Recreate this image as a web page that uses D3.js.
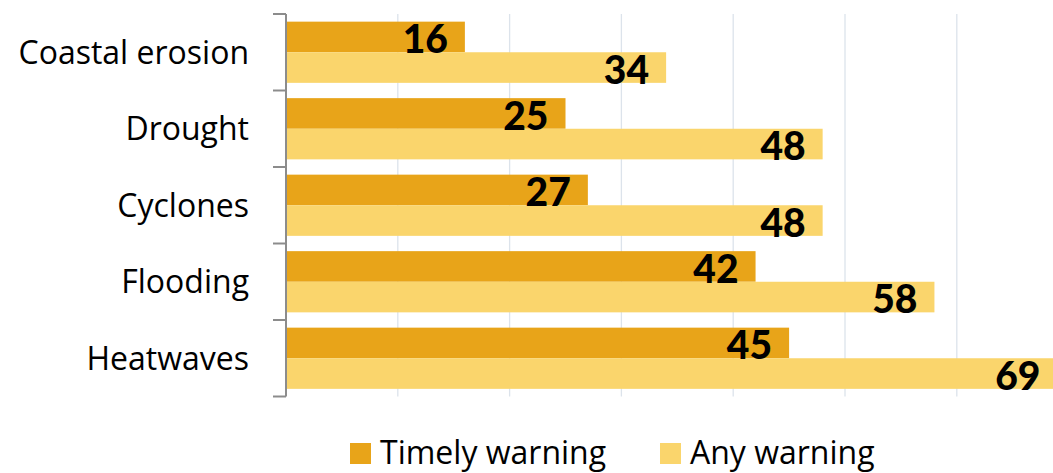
<!DOCTYPE html>
<html>
<head>
<meta charset="utf-8">
<script src="https://cdn.jsdelivr.net/npm/d3@7"></script>
<style>
  html, body { margin: 0; padding: 0; background: #fff; }
  svg { display: block; font-family: "Open Sans", Lato, sans-serif; }
  .value { font-family: Lato, "Open Sans", sans-serif; }
</style>
</head>
<body>
<svg id="chart" width="1053" height="473"></svg>
<script>
// Share of respondents who received a warning, by hazard type
const categories = ["Coastal erosion", "Drought", "Cyclones", "Flooding", "Heatwaves"];
const seriesNames = ["Timely warning", "Any warning"];
const timelyWarning = [16, 25, 27, 42, 45];
const anyWarning = [34, 48, 48, 58, 69];
const gridTicks = [10, 20, 30, 40, 50, 60];

const colors = { "Timely warning": "#E8A419", "Any warning": "#FAD56C" };

const rows = categories.map((c, i) => ({
  category: c,
  values: [
    { series: "Timely warning", value: timelyWarning[i] },
    { series: "Any warning", value: anyWarning[i] }
  ]
}));

const svg = d3.select("#chart");
const left = 286;

const x = d3.scaleLinear().domain([0, 70]).range([left, left + 70 * 11.18]);
const y0 = d3.scaleBand().domain(categories).range([14, 396.5])
  .paddingInner(0.2).paddingOuter(0.1);
const y1 = d3.scaleBand().domain(seriesNames).range([0, y0.bandwidth()]);

// vertical gridlines
svg.append("g").selectAll("line").data(gridTicks).join("line")
  .attr("x1", d => x(d)).attr("x2", d => x(d))
  .attr("y1", y0.range()[0]).attr("y2", y0.range()[1])
  .attr("stroke", "#DCE3EB").attr("stroke-width", 1.3);

// bars
const groups = svg.append("g").selectAll("g").data(rows).join("g")
  .attr("transform", d => `translate(0,${y0(d.category)})`);

groups.selectAll("rect").data(d => d.values).join("rect")
  .attr("x", x(0))
  .attr("y", d => y1(d.series))
  .attr("width", d => x(d.value) - x(0))
  .attr("height", y1.bandwidth())
  .attr("fill", d => colors[d.series]);

// value labels, inside the bar end
groups.selectAll("text").data(d => d.values).join("text")
  .attr("class", "value")
  .attr("x", d => x(d.value) - 17)
  .attr("y", d => y1(d.series) + y1.bandwidth() + 1)
  .attr("text-anchor", "end")
  .attr("font-size", 39)
  .attr("font-weight", 900)
  .attr("fill", "#000")
  .text(d => d.value);

// category axis with ticks at the band boundaries
const axis = svg.append("g");
const step = y0.step();
const boundaries = d3.range(categories.length + 1).map(i =>
  y0.range()[0] + i * step);
axis.append("line")
  .attr("x1", left).attr("x2", left)
  .attr("y1", boundaries[0]).attr("y2", boundaries[boundaries.length - 1])
  .attr("stroke", "#8C8C8C").attr("stroke-width", 2);
axis.selectAll("line.tick").data(boundaries).join("line")
  .attr("class", "tick")
  .attr("x1", left - 13).attr("x2", left)
  .attr("y1", d => d).attr("y2", d => d)
  .attr("stroke", "#8C8C8C").attr("stroke-width", 2);
axis.selectAll("text").data(categories).join("text")
  .attr("x", 249)
  .attr("y", d => y0(d) + y0.bandwidth() / 2)
  .attr("dy", "0.36em")
  .attr("text-anchor", "end")
  .attr("font-size", 32)
  .attr("fill", "#000")
  .text(d => d);

// legend
const legendPos = [350, 660];
const legend = svg.append("g").selectAll("g").data(seriesNames).join("g")
  .attr("transform", (d, i) => `translate(${legendPos[i]},443)`);
legend.append("rect")
  .attr("width", 21).attr("height", 21)
  .attr("fill", d => colors[d]);
legend.append("text")
  .attr("x", 30).attr("y", 21)
  .attr("font-size", 32)
  .attr("fill", "#000")
  .text(d => d);
</script>
</body>
</html>
